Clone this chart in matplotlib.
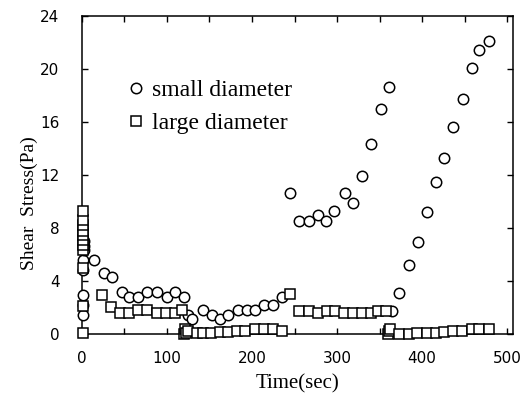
import matplotlib
matplotlib.use("Agg")
import matplotlib.pyplot as plt
from matplotlib.ticker import MultipleLocator

# small diameter (circles)
t_small = [1, 1, 1, 1, 1, 2, 2, 2,
           14, 26, 36, 47, 56, 66, 77, 88, 100, 109, 120, 125, 129,
           142, 153, 162, 172, 183, 194, 204, 214, 225, 235,
           245, 255, 267, 277, 287, 296, 309, 319, 329, 340, 352, 361,
           365, 373, 384, 395, 406, 416, 426, 436, 448, 458, 467, 478]
s_small = [1.4, 2.2, 2.9, 4.8, 5.6, 6.3, 6.6, 7.0,
           5.6, 4.6, 4.3, 3.2, 2.8, 2.8, 3.2, 3.2, 2.8, 3.2, 2.8, 1.4, 1.1,
           1.8, 1.4, 1.1, 1.4, 1.8, 1.8, 1.8, 2.2, 2.2, 2.8,
           10.6, 8.5, 8.5, 9.0, 8.5, 9.3, 10.6, 9.9, 11.9, 14.3, 17.0, 18.6,
           1.7, 3.1, 5.2, 6.9, 9.2, 11.5, 13.3, 15.6, 17.7, 20.1, 21.4, 22.1]

# large diameter (squares)
t_large = [1, 1, 1, 1, 1, 1, 1, 1, 1, 1, 1,
           24, 34, 45, 55, 66, 77, 88, 99, 110, 118,
           120, 121, 123, 125, 135, 142, 152, 162, 172, 182, 192, 204, 214, 225, 235,
           245, 255, 267, 277, 288, 298, 308, 319, 329, 340, 348, 357,
           360, 361, 362, 373, 384, 394, 406, 416, 426, 436, 447, 458, 467, 478]
s_large = [0.1, 2.1, 5.0, 6.3, 6.7, 7.1, 7.5, 7.8, 8.2, 8.6, 9.3,
           2.9, 2.0, 1.6, 1.6, 1.8, 1.8, 1.6, 1.6, 1.6, 1.8,
           0.0, 0.4, 0.1, 0.2, 0.05, 0.1, 0.05, 0.15, 0.15, 0.2, 0.2, 0.35, 0.35, 0.35, 0.25,
           3.0, 1.7, 1.7, 1.6, 1.7, 1.7, 1.6, 1.6, 1.6, 1.6, 1.7, 1.7,
           0.0, 0.2, 0.4, 0.0, 0.0, 0.05, 0.1, 0.1, 0.15, 0.2, 0.25, 0.35, 0.4, 0.4]

serif = "Liberation Serif"

fig = plt.figure(figsize=(5.28, 3.98), dpi=100)
ax = fig.add_axes([0.155, 0.161, 0.817, 0.799])

ax.plot(t_small, s_small, linestyle="none", marker="o", markersize=7.5,
        markerfacecolor="white", markeredgecolor="black", markeredgewidth=1.1,
        clip_on=False, zorder=3, label="small diameter")
ax.plot(t_large, s_large, linestyle="none", marker="s", markersize=7.4,
        markerfacecolor="white", markeredgecolor="black", markeredgewidth=1.1,
        clip_on=False, zorder=3, label="large diameter")

ax.set_xlim(0, 507)
ax.set_ylim(0, 24)
ax.xaxis.set_major_locator(MultipleLocator(100))
ax.xaxis.set_minor_locator(MultipleLocator(50))
ax.yaxis.set_major_locator(MultipleLocator(4))

ax.tick_params(which="both", direction="in", top=True, right=True, width=1)
ax.tick_params(which="major", length=4)
ax.tick_params(which="minor", length=4)
ax.tick_params(axis="x", pad=12, labelsize=11)
ax.tick_params(axis="y", pad=16, labelsize=11)
for s in ax.spines.values():
    s.set_linewidth(1.1)

ax.set_xlabel("Time(sec)", fontfamily=serif, fontsize=15, labelpad=6)
ax.set_ylabel("Shear  Stress(Pa)", fontfamily=serif, fontsize=14)
ax.yaxis.set_label_coords(-0.102, 0.41)

leg = ax.legend(loc="upper left", bbox_to_anchor=(0.078, 0.83), frameon=False,
                prop={"family": serif, "size": 17}, handletextpad=0.25,
                handlelength=0.9, labelspacing=0.5, borderaxespad=0)

fig.savefig("out.png", dpi=100)
